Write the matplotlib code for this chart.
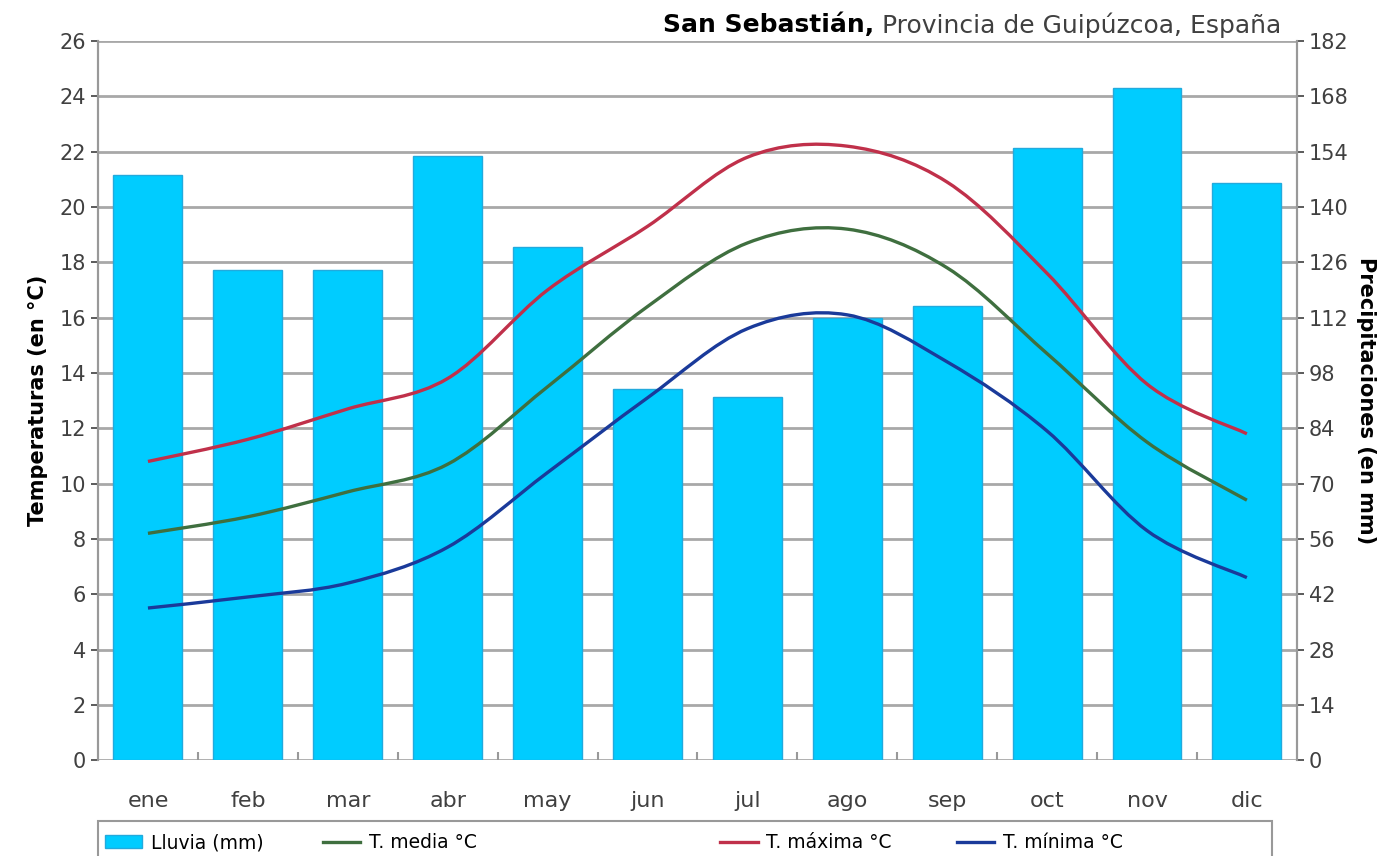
import numpy as np
import matplotlib.pyplot as plt
from matplotlib.path import Path
from matplotlib.patches import PathPatch, Patch, Rectangle
from matplotlib.lines import Line2D

plt.rcParams['font.family'] = ['DejaVu Sans']

meses = ['ene', 'feb', 'mar', 'abr', 'may', 'jun', 'jul', 'ago', 'sep', 'oct', 'nov', 'dic']
lluvia = [148, 124, 124, 153, 130, 94, 92, 112, 115, 155, 170, 146]
t_media = [8.2, 8.8, 9.7, 10.7, 13.5, 16.4, 18.7, 19.2, 17.8, 14.7, 11.5, 9.4]
t_maxima = [10.8, 11.6, 12.7, 13.8, 17.0, 19.3, 21.8, 22.2, 20.9, 17.6, 13.6, 11.8]
t_minima = [5.5, 5.9, 6.4, 7.7, 10.4, 13.1, 15.6, 16.1, 14.4, 11.9, 8.3, 6.6]

c_lluvia = '#00ccff'
c_media = '#3f6f3f'
c_maxima = '#c0304a'
c_minima = '#1a3a9a'


def smooth_path(x, y):
    # curva suavizada tipo Excel (Catmull-Rom -> Bezier)
    verts = [(x[0], y[0])]
    codes = [Path.MOVETO]
    n = len(x)
    for i in range(n - 1):
        p0 = max(i - 1, 0)
        p3 = min(i + 2, n - 1)
        c1 = (x[i] + (x[i + 1] - x[p0]) / 6, y[i] + (y[i + 1] - y[p0]) / 6)
        c2 = (x[i + 1] - (x[p3] - x[i]) / 6, y[i + 1] - (y[p3] - y[i]) / 6)
        verts += [c1, c2, (x[i + 1], y[i + 1])]
        codes += [Path.CURVE4] * 3
    return Path(verts, codes)


fig = plt.figure(figsize=(13.94, 8.56), dpi=100)
ax = fig.add_axes([0.0703, 0.112, 0.8600, 0.840])
ax2 = ax.twinx()

x = np.arange(len(meses))

# barras de lluvia (eje derecho)
ax2.bar(x, lluvia, width=0.69, color=c_lluvia, edgecolor='#22aadd', linewidth=1, zorder=2)
ax2.set_ylim(0, 182)
ax2.set_yticks(np.arange(0, 183, 14))
ax2.grid(axis='y', color='#a8a8a8', linewidth=2)
ax2.set_axisbelow(True)

# temperaturas (eje izquierdo) por encima de las barras
ax.set_zorder(ax2.get_zorder() + 1)
ax.patch.set_visible(False)
for serie, col in [(t_maxima, c_maxima), (t_media, c_media), (t_minima, c_minima)]:
    ax.add_patch(PathPatch(smooth_path(x, serie), facecolor='none', edgecolor=col,
                           linewidth=2.4, zorder=3))

ax.set_xlim(-0.5, len(meses) - 0.5)
ax.set_ylim(0, 26)
ax.set_yticks(np.arange(0, 27, 2))
ax.set_xticks(x)
ax.set_xticklabels(meses)
ax.set_xticks(np.arange(0.5, len(meses) - 0.5, 1), minor=True)

for a in (ax, ax2):
    for s in a.spines.values():
        s.set_color('#999999')
        s.set_linewidth(1.5)
    a.spines['top'].set_visible(False)
    a.spines['bottom'].set_visible(False)
    a.tick_params(labelsize=15, colors='#404040', length=5, width=1.2)

ax.tick_params(axis='x', which='major', length=0, pad=22, labelsize=16)
ax.tick_params(axis='x', which='minor', length=6, direction='in', color='#999999', width=1.5)

ax.set_ylabel('Temperaturas (en °C)', fontsize=15, fontweight='bold', labelpad=8)
ax2.set_ylabel('Precipitaciones (en mm)', fontsize=15, fontweight='bold', rotation=270, labelpad=20)

# titulo: parte en negrita + resto normal
t_rest = fig.text(0.919, 0.971, ' Provincia de Guipúzcoa, España', fontsize=18, ha='right',
                  va='center', color='#404040')
ax.annotate('San Sebastián,', xy=(0, 0.5), xycoords=t_rest, ha='right', va='center',
            fontsize=18, fontweight='bold', annotation_clip=False)

# leyenda
fig.patches.append(Rectangle((0.0703, -0.05), 0.842, 0.0904, transform=fig.transFigure,
                             facecolor='white', edgecolor='#999999', linewidth=1.5))
handles = [Patch(facecolor=c_lluvia, edgecolor='#22aadd'),
           Line2D([], [], color=c_media, linewidth=2.4),
           Line2D([], [], color=c_maxima, linewidth=2.4),
           Line2D([], [], color=c_minima, linewidth=2.4)]
labels = ['Lluvia (mm)', 'T. media °C', 'T. máxima °C', 'T. mínima °C']
x_leg = [0.0753, 0.2317, 0.5165, 0.6865]
for h, lab, xl in zip(handles, labels, x_leg):
    fig.legend([h], [lab], loc='center left', bbox_to_anchor=(xl, 0.0155), fontsize=13.5,
               frameon=False, handlelength=2.0, handletextpad=0.45, borderaxespad=0,
               borderpad=0)

fig.savefig('out.png', dpi=100)
